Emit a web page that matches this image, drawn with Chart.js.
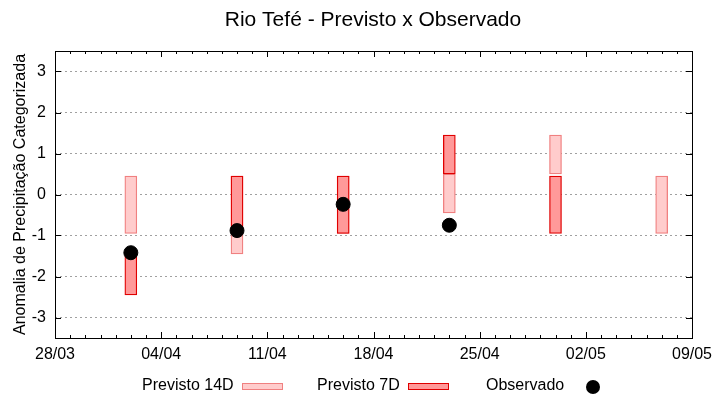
<!DOCTYPE html>
<html>
<head>
<meta charset="utf-8">
<script src="https://cdn.jsdelivr.net/npm/chart.js@4.4.1/dist/chart.umd.min.js"></script>
<style>
  html, body { margin: 0; padding: 0; background: #fff; }
  #wrap { width: 720px; height: 400px; }
</style>
</head>
<body>
<div id="wrap"><canvas id="chart" width="720" height="400"></canvas></div>
<script>
// days counted from 28/03
const xTickDays = [0, 7, 14, 21, 28, 35, 42];
const xTickLabels = ['28/03', '04/04', '11/04', '18/04', '25/04', '02/05', '09/05'];
const yTicks = [-3, -2, -1, 0, 1, 2, 3];

const forecastDays = [5, 12, 19, 26, 33, 40];
// [low, high] of each forecast range
const prev14Low  = [-0.95, -1.45, -0.95, -0.45, 0.5, -0.95];
const prev14High = [0.45, 0.45, 0.45, 0.5, 1.45, 0.45];
const prev7Low   = [-2.45, -0.95, -0.95, 0.5, -0.95, null];
const prev7High  = [-1.45, 0.45, 0.45, 1.45, 0.45, null];

const obsDays   = [5, 12, 19, 26];
const obsValues = [-1.42, -0.88, -0.24, -0.75];

const FONT = 'Liberation Sans, Arial, sans-serif';
const C14_FILL = '#ffcccc', C14_LINE = '#f08080';
const C7_FILL = '#ff9999', C7_LINE = '#e00000';

const ranges = (days, lo, hi) => days
    .map((d, i) => ({ x: d, y: [lo[i], hi[i]] }))
    .filter(p => p.y[0] !== null);

// gnuplot-like frame, inward ticks, title and legend
const decor = {
    id: 'decor',
    afterDatasetsDraw(chart) {
        const { ctx, chartArea: a, scales: { x, y } } = chart;
        ctx.save();
        ctx.strokeStyle = '#000';
        ctx.lineWidth = 1;
        ctx.beginPath();
        for (let d = xTickDays[0]; d <= xTickDays[xTickDays.length - 1]; d++) {
            const px = Math.round(x.getPixelForValue(d)) + 0.5;
            const len = xTickDays.includes(d) ? 6 : 3;
            ctx.moveTo(px, a.bottom); ctx.lineTo(px, a.bottom - len);
            ctx.moveTo(px, a.top); ctx.lineTo(px, a.top + len);
        }
        yTicks.forEach(v => {
            const py = Math.round(y.getPixelForValue(v)) + 0.5;
            ctx.moveTo(a.left, py); ctx.lineTo(a.left + 6, py);
            ctx.moveTo(a.right, py); ctx.lineTo(a.right - 6, py);
        });
        ctx.stroke();
        ctx.strokeRect(Math.round(a.left) + 0.5, Math.round(a.top) + 0.5,
            Math.round(a.right - a.left), Math.round(a.bottom - a.top));

        ctx.fillStyle = '#000';
        ctx.font = '21px ' + FONT;
        ctx.textAlign = 'center';
        ctx.textBaseline = 'middle';
        ctx.fillText('Rio Tefé - Previsto x Observado', 373, 20);

        ctx.font = '16px ' + FONT;
        ctx.textAlign = 'left';
        const ly = 386;
        ctx.fillText('Previsto 14D', 142, ly);
        ctx.fillStyle = C14_FILL; ctx.strokeStyle = C14_LINE;
        ctx.fillRect(242, ly - 3, 40, 7); ctx.strokeRect(242.5, ly - 2.5, 40, 6);
        ctx.fillStyle = '#000';
        ctx.fillText('Previsto 7D', 317, ly);
        ctx.fillStyle = C7_FILL; ctx.strokeStyle = C7_LINE;
        ctx.fillRect(408, ly - 3, 40, 7); ctx.strokeRect(408.5, ly - 2.5, 40, 6);
        ctx.fillStyle = '#000';
        ctx.fillText('Observado', 486, ly);
        ctx.beginPath(); ctx.arc(593, ly + 1, 7, 0, Math.PI * 2); ctx.fill();
        ctx.restore();
    }
};

new Chart(document.getElementById('chart'), {
    type: 'bar',
    data: {
        datasets: [
            {
                type: 'scatter',
                label: 'Observado',
                data: obsDays.map((d, i) => ({ x: d, y: obsValues[i] })),
                backgroundColor: '#000',
                borderColor: '#000',
                pointRadius: 7,
                order: 0,
            },
            {
                label: 'Previsto 7D',
                data: ranges(forecastDays, prev7Low, prev7High),
                backgroundColor: C7_FILL,
                borderColor: C7_LINE,
                borderWidth: 1.3,
                borderSkipped: false,
                barThickness: 12,
                grouped: false,
                order: 1,
            },
            {
                label: 'Previsto 14D',
                data: ranges(forecastDays, prev14Low, prev14High),
                backgroundColor: C14_FILL,
                borderColor: C14_LINE,
                borderWidth: 1.3,
                borderSkipped: false,
                barThickness: 12,
                grouped: false,
                order: 2,
            },
        ],
    },
    options: {
        responsive: false,
        animation: false,
        events: [],
        layout: { padding: { top: 51, right: 28, left: 0, bottom: 0 } },
        plugins: { legend: { display: false }, title: { display: false }, tooltip: { enabled: false } },
        scales: {
            x: {
                type: 'linear',
                min: 0,
                max: 42,
                offset: false,
                afterBuildTicks: s => { s.ticks = xTickDays.map(v => ({ value: v })); },
                afterFit: s => { s.height = 62; },
                ticks: {
                    padding: 7,
                    color: '#000',
                    font: { family: FONT, size: 16 },
                    maxRotation: 0,
                    autoSkip: false,
                    callback: v => xTickLabels[xTickDays.indexOf(v)],
                },
                grid: { display: false, offset: false, drawTicks: false },
                border: { display: false },
            },
            y: {
                min: -3.5,
                max: 3.5,
                afterBuildTicks: s => { s.ticks = yTicks.map(v => ({ value: v })); },
                afterFit: s => { s.width = 55; },
                ticks: {
                    padding: 9,
                    color: '#000',
                    font: { family: FONT, size: 16 },
                },
                grid: { color: '#a0a0a0', drawTicks: false, lineWidth: 1 },
                border: { display: false, dash: [2, 3] },
                title: {
                    display: true,
                    text: 'Anomalia de Precipitação Categorizada',
                    color: '#000',
                    font: { family: FONT, size: 16 },
                    padding: { top: 11, bottom: 0 },
                },
            },
        },
    },
    plugins: [decor],
});
</script>
</body>
</html>
